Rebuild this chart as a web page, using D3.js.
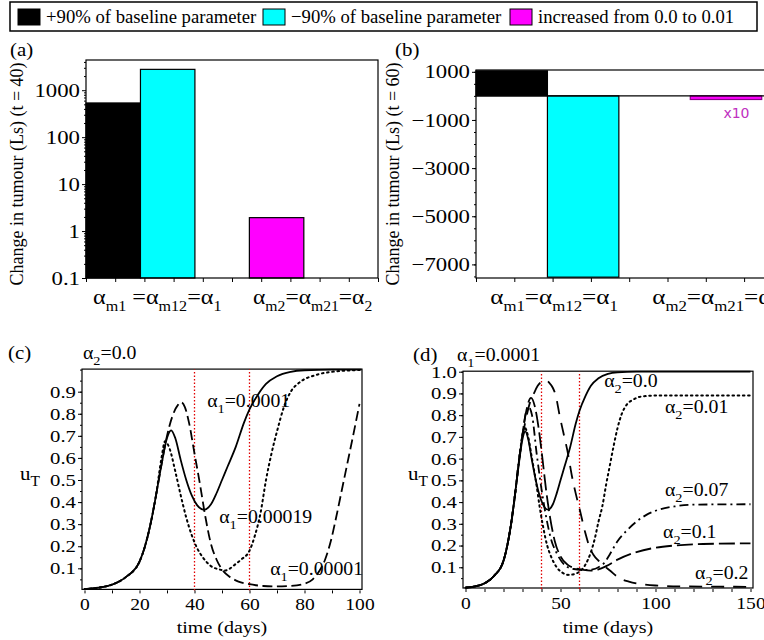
<!DOCTYPE html>
<html lang="en">
<head>
  <meta charset="UTF-8">
  <title>Tumour sensitivity</title>
  <style>
    body { margin: 0; background: #fff; }
    svg { display: block; }
    svg text { font-family: "Liberation Serif", "DejaVu Serif", serif; }
    svg text.sans { font-family: "DejaVu Sans", sans-serif; }
  </style>
</head>
<body>
  <script src="https://d3js.org/d3.v7.min.js"></script>
  <script>
    // ---- data ----
    const legendLabels = ['+90% of baseline parameter', '\u221290% of baseline parameter', 'increased from 0.0 to 0.01'];
    const legendColors = ['#000000', '#00ffff', '#ff00ff'];
    const barSlots = [0, 1, 3];              // bar order along the x axis
    const changeT40 = [535, 2780, 1.93];     // panel (a), log axis
    const changeT60 = [1040, -7530, -150];   // panel (b), magenta shown x10
    const ticksA = [0.1, 1, 10, 100, 1000];
    const ticksB = [1000, -1000, -3000, -5000, -7000];
    const ticksU = [0.1, 0.2, 0.3, 0.4, 0.5, 0.6, 0.7, 0.8, 0.9];
    const ticksUd = [0.1, 0.2, 0.3, 0.4, 0.5, 0.6, 0.7, 0.8, 0.9, 1.0];

    // panel (c), alpha2 = 0.0 (solid curve is also alpha2 = 0.0 in panel d)
    const uSolid = [[0,0.006],[5,0.012],[10,0.026],[15,0.06],[20,0.13],[22,0.2],[24,0.3],[26,0.43],[28,0.57],[30,0.69],[31.5,0.725],[33,0.69],[35,0.59],[37,0.5],[39,0.43],[41,0.385],[43.5,0.365],[46,0.39],[48,0.44],[50,0.5],[52,0.56],[55,0.65],[58,0.76],[60,0.82],[63,0.885],[66,0.935],[70,0.97],[75,0.99],[80,0.997],[90,1.0],[100,1.0],[150,1.0]];
    const uA1small = [[0,0.006],[5,0.012],[10,0.026],[15,0.06],[20,0.13],[22,0.2],[24,0.3],[26,0.43],[28,0.57],[30,0.7],[32,0.79],[34,0.84],[35.2,0.852],[36.5,0.83],[38,0.76],[40,0.62],[42,0.48],[44,0.33],[46,0.21],[48,0.14],[50,0.095],[53,0.06],[56,0.04],[60,0.028],[65,0.02],[70,0.018],[75,0.02],[80,0.03],[83,0.05],[85.5,0.09],[87.5,0.14],[89.5,0.22],[91.5,0.33],[93.5,0.45],[95.5,0.57],[97.5,0.69],[100,0.845]];
    const uA1large = [[0,0.006],[5,0.012],[10,0.026],[15,0.06],[20,0.13],[22,0.2],[24,0.3],[26,0.43],[28,0.6],[29.3,0.675],[31,0.64],[33,0.54],[35,0.43],[37,0.33],[39,0.25],[41,0.19],[43,0.15],[46,0.11],[49,0.095],[51,0.09],[53,0.1],[55,0.12],[57,0.14],[60,0.18],[62,0.25],[64,0.35],[66,0.5],[68,0.62],[70,0.72],[72.5,0.83],[75,0.9],[78,0.94],[84,0.975],[90,0.99],[100,0.998]];

    // panel (d), alpha1 = 0.0001
    const uA2_001 = [[0,0.006],[5,0.012],[10,0.026],[15,0.06],[20,0.13],[22,0.2],[24,0.3],[26,0.43],[28,0.58],[30,0.71],[31,0.745],[33,0.7],[35,0.6],[37,0.5],[39,0.38],[41,0.28],[43,0.2],[45,0.15],[48,0.1],[51,0.075],[54,0.065],[57,0.068],[60,0.08],[63,0.11],[66,0.17],[68,0.23],[70,0.31],[72,0.38],[74,0.48],[76,0.57],[78,0.66],[80,0.74],[82,0.8],[85,0.85],[88,0.87],[92,0.885],[100,0.89],[150,0.89]];
    const uA2_007 = [[0,0.006],[5,0.012],[10,0.026],[15,0.06],[20,0.13],[22,0.2],[24,0.3],[26,0.43],[28,0.58],[30,0.71],[31.5,0.8],[33,0.84],[35,0.8],[37.5,0.62],[40,0.46],[42.7,0.32],[45,0.23],[48,0.165],[53,0.105],[57,0.092],[62,0.088],[67,0.09],[70,0.1],[73,0.12],[76,0.16],[80,0.22],[85,0.27],[90,0.31],[95,0.34],[100,0.36],[110,0.38],[120,0.388],[150,0.39]];
    const uA2_01 = [[0,0.006],[5,0.012],[10,0.026],[15,0.06],[20,0.13],[22,0.2],[24,0.3],[26,0.43],[28,0.58],[30,0.71],[32,0.82],[34.5,0.88],[36.5,0.84],[38.5,0.74],[40.5,0.6],[42.5,0.45],[44.5,0.33],[47,0.22],[50,0.15],[54,0.11],[58,0.095],[62,0.088],[66,0.085],[70,0.09],[74,0.105],[80,0.135],[90,0.17],[100,0.19],[110,0.2],[125,0.207],[150,0.21]];
    const uA2_02 = [[0,0.006],[5,0.012],[10,0.026],[15,0.06],[20,0.13],[22,0.2],[24,0.3],[26,0.43],[28,0.58],[30,0.7],[32,0.79],[34,0.86],[36,0.9],[38,0.935],[40,0.955],[42,0.962],[44,0.95],[46,0.925],[47.5,0.89],[49.5,0.8],[51.5,0.72],[54,0.62],[56,0.52],[58,0.44],[60,0.37],[63,0.26],[65,0.2],[67.5,0.155],[70,0.13],[72.5,0.11],[76,0.085],[81,0.05],[86,0.034],[92,0.023],[100,0.016],[115,0.012],[150,0.01]];

    const svg = d3.select('body').append('svg')
      .attr('width', 764).attr('height', 640);

    // text with a horizontal stretch, the figure's fonts are wide
    function sText(g, x, y, str, size, sx, anchor) {
      return g.append('text')
        .attr('transform', `translate(${x},${y}) scale(${sx},1)`)
        .attr('font-size', size)
        .attr('text-anchor', anchor || 'start')
        .text(str);
    }
    // greek label with subscripts: parts = [[main, sub], ...]
    function subText(g, x, y, parts, size, subSize, sx, anchor) {
      const t = g.append('text')
        .attr('transform', `translate(${x},${y}) scale(${sx},1)`)
        .attr('font-size', size)
        .attr('text-anchor', anchor || 'start');
      parts.forEach(p => {
        if (p[0]) t.append('tspan').attr('font-size', size).attr('y', 0).text(p[0]);
        if (p[1]) t.append('tspan').attr('font-size', subSize).attr('y', Math.round(size * 0.33)).text(p[1]);
      });
      return t;
    }
    function styleAxis(ax, size, sx) {
      ax.attr('font-family', null).attr('font-size', null);
      ax.select('.domain').remove();
      ax.selectAll('line').attr('stroke', '#000');
      ax.selectAll('text').attr('font-size', size).attr('fill', '#000')
        .each(function() {
          const x = +this.getAttribute('x') || 0;
          d3.select(this).attr('x', x / sx).attr('transform', `scale(${sx},1)`);
        });
    }

    // ---- legend ----
    const leg = svg.append('g');
    leg.append('rect').attr('x', 10).attr('y', 2).attr('width', 747).attr('height', 29)
      .attr('fill', 'none').attr('stroke', '#000').attr('stroke-width', 1.5);
    const legX = [18, 263, 510];
    legendLabels.forEach((lab, i) => {
      leg.append('rect').attr('x', legX[i]).attr('y', 9).attr('width', 22).attr('height', 16)
        .attr('fill', legendColors[i]).attr('stroke', '#000');
      leg.append('text').attr('x', legX[i] + 28).attr('y', 23).attr('font-size', 18.7).text(lab);
    });

    const barW = 1.865;

    // ---- panel (a) ----
    const gA = svg.append('g');
    const xA = d3.scaleLinear().domain([0, 10]).range([86, 378]);
    const yA = d3.scaleLog().domain([0.1, 4400]).range([278, 60]);
    gA.selectAll('.bar').data(changeT40).enter().append('rect')
      .attr('x', (d, i) => xA(barSlots[i] * barW))
      .attr('width', xA(barW) - xA(0))
      .attr('y', d => yA(d))
      .attr('height', d => yA(0.1) - yA(d))
      .attr('fill', (d, i) => legendColors[i]).attr('stroke', '#000').attr('stroke-width', 1.2);
    gA.append('rect').attr('x', xA(0)).attr('y', yA(4400)).attr('width', xA(10) - xA(0))
      .attr('height', yA(0.1) - yA(4400)).attr('fill', 'none').attr('stroke', '#000').attr('stroke-width', 1.2);
    const minorA = [];
    [0.1, 1, 10, 100, 1000].forEach(b => { for (let k = 2; k <= 9; k++) if (b * k < 4400) minorA.push(b * k); });
    gA.append('g').attr('transform', `translate(${xA(0)},0)`)
      .call(d3.axisLeft(yA).tickValues(minorA).tickSize(2).tickFormat(''))
      .call(ax => styleAxis(ax, 19, 1.2));
    gA.append('g').attr('transform', `translate(${xA(0)},0)`)
      .call(d3.axisLeft(yA).tickValues(ticksA).tickSize(4).tickPadding(2).tickFormat(d => String(d)))
      .call(ax => styleAxis(ax, 19, 1.2));
    gA.append('g').attr('transform', `translate(0,${yA(0.1)})`)
      .call(d3.axisBottom(xA).ticks(10).tickSize(4).tickFormat(''))
      .call(ax => styleAxis(ax, 10, 1));
    sText(gA, 10, 56, '(a)', 19, 1.1);
    gA.append('text').attr('transform', 'translate(23,174) rotate(-90)').attr('text-anchor', 'middle')
      .attr('font-size', 18).text('Change in tumour (Ls) (t = 40)');
    subText(gA, xA(0.24), 304, [['\u03b1', 'm1'], [' =\u03b1', 'm12'], ['=\u03b1', '1']], 21, 14, 1.15);
    subText(gA, xA(5.72), 304, [['\u03b1', 'm2'], ['=\u03b1', 'm21'], ['=\u03b1', '2']], 21, 14, 1.12);

    // ---- panel (b) ----
    const gB = svg.append('g');
    const xB = d3.scaleLinear().domain([0, 10]).range([476, 859]);
    const yB = d3.scaleLinear().domain([-7565, 1075]).range([278, 70]);
    gB.selectAll('.bar').data(changeT60).enter().append('rect')
      .attr('x', (d, i) => xB(barSlots[i] * barW))
      .attr('width', xB(barW) - xB(0))
      .attr('y', d => yB(Math.max(0, d)))
      .attr('height', d => Math.abs(yB(0) - yB(d)))
      .attr('fill', (d, i) => legendColors[i])
      .attr('stroke', (d, i) => i === 2 ? '#8a008a' : '#000').attr('stroke-width', 1.2);
    gB.append('line').attr('x1', xB(0)).attr('x2', xB(10)).attr('y1', yB(0)).attr('y2', yB(0))
      .attr('stroke', '#000').attr('stroke-width', 1.2);
    gB.append('rect').attr('x', xB(0)).attr('y', yB(1075)).attr('width', xB(10) - xB(0))
      .attr('height', yB(-7565) - yB(1075)).attr('fill', 'none').attr('stroke', '#000').attr('stroke-width', 1.2);
    gB.append('g').attr('transform', `translate(${xB(0)},0)`)
      .call(d3.axisLeft(yB).tickValues(d3.range(-7500, 1001, 500)).tickSize(2).tickFormat(''))
      .call(ax => styleAxis(ax, 19, 1.2));
    gB.append('g').attr('transform', `translate(${xB(0)},0)`)
      .call(d3.axisLeft(yB).tickValues(ticksB).tickSize(4).tickPadding(2).tickFormat(d3.format('d')))
      .call(ax => styleAxis(ax, 19, 1.2));
    gB.append('g').attr('transform', `translate(0,${yB(-7565)})`)
      .call(d3.axisBottom(xB).ticks(10).tickSize(4).tickFormat(''))
      .call(ax => styleAxis(ax, 10, 1));
    sText(gB, 395, 56, '(b)', 19, 1.1);
    gB.append('text').attr('transform', 'translate(399,174) rotate(-90)').attr('text-anchor', 'middle')
      .attr('font-size', 18).text('Change in tumour (Ls) (t = 60)');
    gB.append('text').attr('class', 'sans').attr('x', xB(6.46)).attr('y', yB(-900))
      .attr('font-size', 14).attr('fill', '#c030c0').text('x10');
    subText(gB, xB(0.37), 304, [['\u03b1', 'm1'], ['=\u03b1', 'm12'], ['=\u03b1', '1']], 21, 14, 1.2);
    subText(gB, xB(4.6), 304, [['\u03b1', 'm2'], ['=\u03b1', 'm21'], ['=\u03b1', '2']], 21, 14, 1.2);

    // ---- line panels ----
    let clipId = 0;
    function linePanel(opts) {
      const g = svg.append('g');
      const x = d3.scaleLinear().domain([0, opts.tMax]).range(opts.xr);
      const y = d3.scaleLinear().domain([0, 1]).range(opts.yr);
      const id = 'clip' + (clipId++);
      g.append('clipPath').attr('id', id).append('rect')
        .attr('x', x(0) - 2).attr('y', y(1) - 2).attr('width', x(opts.tMax) - x(0) + 4).attr('height', y(0) - y(1) + 4);
      g.append('rect').attr('x', x.range()[0] - 2.5).attr('y', y(1) - 0.5)
        .attr('width', x.range()[1] - x.range()[0] + 5).attr('height', y(0) - y(1) - 0.5)
        .attr('fill', 'none').attr('stroke', '#000').attr('stroke-width', 1.2);
      [40, 60].forEach(t => {
        g.append('line').attr('x1', x(t)).attr('x2', x(t))
          .attr('y1', y(0)).attr('y2', y(1))
          .attr('stroke', '#e00000').attr('stroke-width', 1.3).attr('stroke-dasharray', '1.5,2');
      });
      const line = d3.line().x(d => x(d[0])).y(d => y(d[1])).curve(d3.curveMonotoneX);
      const curves = g.append('g').attr('clip-path', `url(#${id})`);
      opts.series.forEach(s => {
        curves.append('path').datum(s.data).attr('d', line).attr('fill', 'none')
          .attr('stroke', '#000').attr('stroke-width', s.dash === '1.6,3.6' ? 2 : 1.8)
          .attr('stroke-linecap', s.dash === '1.6,3.6' ? 'round' : 'butt')
          .attr('stroke-dasharray', s.dash);
      });
      g.append('g').attr('transform', `translate(${x.range()[0] - 2.5},0)`)
        .call(d3.axisLeft(y).tickValues(d3.range(0.05, 1.001, 0.05)).tickSize(2).tickFormat(''))
        .call(ax => styleAxis(ax, 17, 1.2));
      g.append('g').attr('transform', `translate(${x.range()[0] - 2.5},0)`)
        .call(d3.axisLeft(y).tickValues(opts.yTicks).tickSize(4).tickPadding(2).tickFormat(d3.format('.1f')))
        .call(ax => styleAxis(ax, 17, 1.22));
      g.append('g').attr('transform', `translate(0,${y(0)})`)
        .call(d3.axisBottom(x).tickValues(d3.range(0, opts.tMax + 1, 10)).tickSize(3).tickFormat(''))
        .call(ax => styleAxis(ax, 17, 1));
      g.append('g').attr('transform', `translate(0,${y(0)})`)
        .call(d3.axisBottom(x).tickValues(opts.xTicks).tickSize(0).tickPadding(8).tickFormat(d3.format('d')))
        .call(ax => styleAxis(ax, 17, 1.15));
      sText(g, (x.range()[0] + x.range()[1]) / 2, 633, 'time (days)', 16, 1.25, 'middle');
      subText(g, opts.uX, 480, [['u', 'T']], 19, 14, 1.1);
      sText(g, opts.tagX, opts.tagY, opts.tag, 19, 1.1);
      subText(g, opts.titleX, opts.tagY, opts.title, 18, 13, 1.1);
      opts.labels.forEach(l => subText(g, x(l.t), y(l.u), l.parts, 18, 13, 1.1));
      return g;
    }

    linePanel({
      tMax: 100, xr: [84.5, 359.5], yr: [590.4, 369.6], yTicks: ticksU, xTicks: [0, 20, 40, 60, 80, 100],
      uX: 20, tag: '(c)', tagX: 8, tagY: 359, titleX: 83, title: [['\u03b1', '2'], ['=0.0', '']],
      series: [
        { data: uSolid, dash: null },
        { data: uA1small, dash: '10,4.5' },
        { data: uA1large, dash: '1.6,3.6' }
      ],
      labels: [
        { t: 44.6, u: 0.83, parts: [['\u03b1', '1'], ['=0.0001', '']] },
        { t: 49, u: 0.305, parts: [['\u03b1', '1'], ['=0.00019', '']] },
        { t: 67.5, u: 0.07, parts: [['\u03b1', '1'], ['=0.00001', '']] }
      ]
    });

    linePanel({
      tMax: 150, xr: [465.5, 750.5], yr: [589, 371.7], yTicks: ticksUd, xTicks: [0, 50, 100, 150],
      uX: 408, tag: '(d)', tagX: 413, tagY: 361, titleX: 457, title: [['\u03b1', '1'], ['=0.0001', '']],
      series: [
        { data: uSolid, dash: null },
        { data: uA2_001, dash: '1.6,3.6' },
        { data: uA2_007, dash: '9,4,2,4' },
        { data: uA2_01, dash: '16,5' },
        { data: uA2_02, dash: '13,9' }
      ],
      labels: [
        { t: 73, u: 0.93, parts: [['\u03b1', '2'], ['=0.0', '']] },
        { t: 105, u: 0.81, parts: [['\u03b1', '2'], ['=0.01', '']] },
        { t: 105, u: 0.428, parts: [['\u03b1', '2'], ['=0.07', '']] },
        { t: 104, u: 0.235, parts: [['\u03b1', '2'], ['=0.1', '']] },
        { t: 120.8, u: 0.046, parts: [['\u03b1', '2'], ['=0.2', '']] }
      ]
    });
  </script>
</body>
</html>
